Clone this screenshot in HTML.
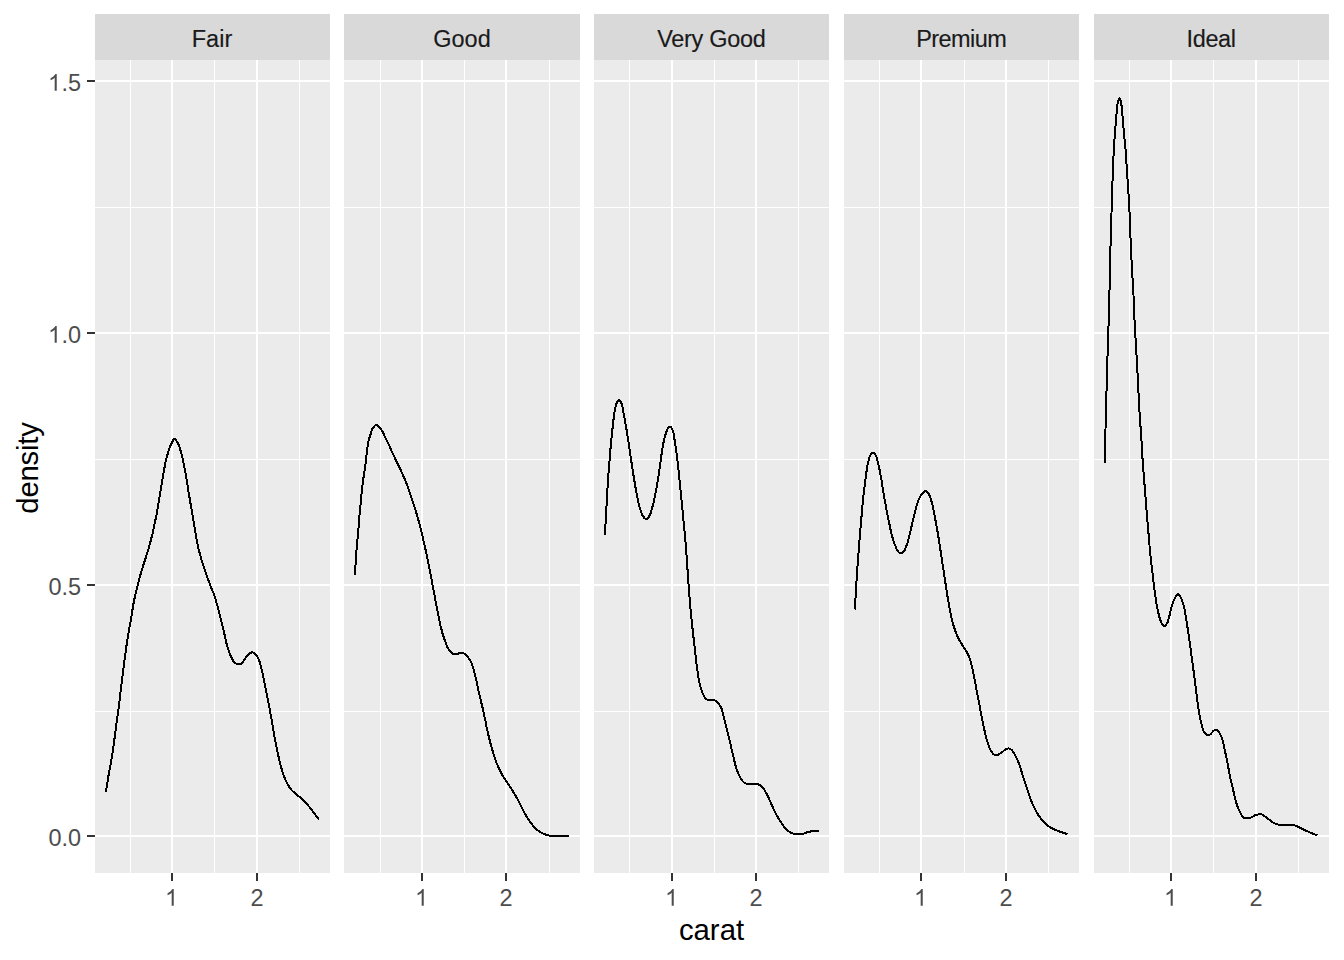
<!DOCTYPE html>
<html><head><meta charset="utf-8"><title>density</title>
<style>
html,body{margin:0;padding:0;background:#fff;}
body{width:1344px;height:960px;position:relative;overflow:hidden;font-family:"Liberation Sans",sans-serif;}
.s{position:absolute;top:14px;height:46px;background:#D9D9D9;color:#1A1A1A;font-size:23.47px;line-height:50px;overflow:hidden;text-align:center;white-space:nowrap;-webkit-text-stroke:0.15px #1A1A1A;}
.p{position:absolute;top:60px;height:813px;background:#EBEBEB;overflow:hidden;}
.g{position:absolute;background:#fff;}
.t{position:absolute;background:#333;}
.yl{position:absolute;left:0;width:81px;text-align:right;color:#4D4D4D;font-size:23.47px;line-height:28px;height:28px;white-space:nowrap;}
.xl{position:absolute;top:883.5px;width:40px;text-align:center;color:#4D4D4D;font-size:23.47px;line-height:28px;height:28px;}
.xt{position:absolute;left:611.5px;width:200px;top:913px;text-align:center;color:#000;font-size:29.33px;line-height:34px;height:34px;}
.yt{position:absolute;left:-72.5px;top:450.5px;width:200px;height:34px;text-align:center;color:#000;font-size:29.33px;line-height:34px;transform:rotate(-90deg);transform-origin:50% 50%;letter-spacing:-0.22px;}
svg.c{position:absolute;left:0;top:0;}
svg.o{display:inline-block;vertical-align:baseline;fill:#4D4D4D;overflow:visible;}
</style></head><body>
<div class="s" style="left:95px;width:235px"><span style="letter-spacing:0px;position:relative;left:-0.5px">Fair</span></div>
<div class="p" style="left:95px;width:235px"><div class="g" style="left:0;width:235px;top:147px;height:1px"></div><div class="g" style="left:0;width:235px;top:399px;height:1px"></div><div class="g" style="left:0;width:235px;top:651px;height:1px"></div><div class="g" style="top:0;height:813px;left:35px;width:1px"></div><div class="g" style="top:0;height:813px;left:119px;width:1px"></div><div class="g" style="top:0;height:813px;left:204px;width:1px"></div><div class="g" style="left:0;width:235px;top:20px;height:2px"></div><div class="g" style="left:0;width:235px;top:272px;height:2px"></div><div class="g" style="left:0;width:235px;top:524px;height:2px"></div><div class="g" style="left:0;width:235px;top:775px;height:2px"></div><div class="g" style="top:0;height:813px;left:76px;width:2px"></div><div class="g" style="top:0;height:813px;left:161px;width:2px"></div></div>
<div class="t" style="left:171px;top:873px;width:2px;height:8px"></div><div class="xl" style="left:152px"><svg class="o" viewBox="0 -1472 1139 1472" width="13.05" height="16.87"><path d="M763 0H583V-1147Q518 -1085 412.5 -1023T223 -930V-1104Q374 -1175 487 -1276T647 -1472H763Z"/></svg></div><div class="t" style="left:256px;top:873px;width:2px;height:8px"></div><div class="xl" style="left:237px">2</div>
<div class="s" style="left:344px;width:236px"><span style="letter-spacing:0px;position:relative;left:0px">Good</span></div>
<div class="p" style="left:344px;width:236px"><div class="g" style="left:0;width:236px;top:147px;height:1px"></div><div class="g" style="left:0;width:236px;top:399px;height:1px"></div><div class="g" style="left:0;width:236px;top:651px;height:1px"></div><div class="g" style="top:0;height:813px;left:36px;width:1px"></div><div class="g" style="top:0;height:813px;left:120px;width:1px"></div><div class="g" style="top:0;height:813px;left:205px;width:1px"></div><div class="g" style="left:0;width:236px;top:20px;height:2px"></div><div class="g" style="left:0;width:236px;top:272px;height:2px"></div><div class="g" style="left:0;width:236px;top:524px;height:2px"></div><div class="g" style="left:0;width:236px;top:775px;height:2px"></div><div class="g" style="top:0;height:813px;left:77px;width:2px"></div><div class="g" style="top:0;height:813px;left:161px;width:2px"></div></div>
<div class="t" style="left:421px;top:873px;width:2px;height:8px"></div><div class="xl" style="left:402px"><svg class="o" viewBox="0 -1472 1139 1472" width="13.05" height="16.87"><path d="M763 0H583V-1147Q518 -1085 412.5 -1023T223 -930V-1104Q374 -1175 487 -1276T647 -1472H763Z"/></svg></div><div class="t" style="left:505px;top:873px;width:2px;height:8px"></div><div class="xl" style="left:486px">2</div>
<div class="s" style="left:594px;width:235px"><span style="letter-spacing:-0.3px;position:relative;left:-0.15px">Very Good</span></div>
<div class="p" style="left:594px;width:235px"><div class="g" style="left:0;width:235px;top:147px;height:1px"></div><div class="g" style="left:0;width:235px;top:399px;height:1px"></div><div class="g" style="left:0;width:235px;top:651px;height:1px"></div><div class="g" style="top:0;height:813px;left:35px;width:1px"></div><div class="g" style="top:0;height:813px;left:120px;width:1px"></div><div class="g" style="top:0;height:813px;left:204px;width:1px"></div><div class="g" style="left:0;width:235px;top:20px;height:2px"></div><div class="g" style="left:0;width:235px;top:272px;height:2px"></div><div class="g" style="left:0;width:235px;top:524px;height:2px"></div><div class="g" style="left:0;width:235px;top:775px;height:2px"></div><div class="g" style="top:0;height:813px;left:77px;width:2px"></div><div class="g" style="top:0;height:813px;left:161px;width:2px"></div></div>
<div class="t" style="left:671px;top:873px;width:2px;height:8px"></div><div class="xl" style="left:652px"><svg class="o" viewBox="0 -1472 1139 1472" width="13.05" height="16.87"><path d="M763 0H583V-1147Q518 -1085 412.5 -1023T223 -930V-1104Q374 -1175 487 -1276T647 -1472H763Z"/></svg></div><div class="t" style="left:755px;top:873px;width:2px;height:8px"></div><div class="xl" style="left:736px">2</div>
<div class="s" style="left:844px;width:235px"><span style="letter-spacing:-0.55px;position:relative;left:-0.3px">Premium</span></div>
<div class="p" style="left:844px;width:235px"><div class="g" style="left:0;width:235px;top:147px;height:1px"></div><div class="g" style="left:0;width:235px;top:399px;height:1px"></div><div class="g" style="left:0;width:235px;top:651px;height:1px"></div><div class="g" style="top:0;height:813px;left:35px;width:1px"></div><div class="g" style="top:0;height:813px;left:120px;width:1px"></div><div class="g" style="top:0;height:813px;left:204px;width:1px"></div><div class="g" style="left:0;width:235px;top:20px;height:2px"></div><div class="g" style="left:0;width:235px;top:272px;height:2px"></div><div class="g" style="left:0;width:235px;top:524px;height:2px"></div><div class="g" style="left:0;width:235px;top:775px;height:2px"></div><div class="g" style="top:0;height:813px;left:76px;width:2px"></div><div class="g" style="top:0;height:813px;left:161px;width:2px"></div></div>
<div class="t" style="left:920px;top:873px;width:2px;height:8px"></div><div class="xl" style="left:901px"><svg class="o" viewBox="0 -1472 1139 1472" width="13.05" height="16.87"><path d="M763 0H583V-1147Q518 -1085 412.5 -1023T223 -930V-1104Q374 -1175 487 -1276T647 -1472H763Z"/></svg></div><div class="t" style="left:1005px;top:873px;width:2px;height:8px"></div><div class="xl" style="left:986px">2</div>
<div class="s" style="left:1094px;width:235px"><span style="letter-spacing:-0.36px;position:relative;left:-0.4px">Ideal</span></div>
<div class="p" style="left:1094px;width:235px"><div class="g" style="left:0;width:235px;top:147px;height:1px"></div><div class="g" style="left:0;width:235px;top:399px;height:1px"></div><div class="g" style="left:0;width:235px;top:651px;height:1px"></div><div class="g" style="top:0;height:813px;left:35px;width:1px"></div><div class="g" style="top:0;height:813px;left:119px;width:1px"></div><div class="g" style="top:0;height:813px;left:204px;width:1px"></div><div class="g" style="left:0;width:235px;top:20px;height:2px"></div><div class="g" style="left:0;width:235px;top:272px;height:2px"></div><div class="g" style="left:0;width:235px;top:524px;height:2px"></div><div class="g" style="left:0;width:235px;top:775px;height:2px"></div><div class="g" style="top:0;height:813px;left:76px;width:2px"></div><div class="g" style="top:0;height:813px;left:161px;width:2px"></div></div>
<div class="t" style="left:1170px;top:873px;width:2px;height:8px"></div><div class="xl" style="left:1151px"><svg class="o" viewBox="0 -1472 1139 1472" width="13.05" height="16.87"><path d="M763 0H583V-1147Q518 -1085 412.5 -1023T223 -930V-1104Q374 -1175 487 -1276T647 -1472H763Z"/></svg></div><div class="t" style="left:1255px;top:873px;width:2px;height:8px"></div><div class="xl" style="left:1236px">2</div>
<div class="t" style="left:87px;top:80px;width:8px;height:2px"></div><div class="yl" style="top:68.5px"><svg class="o" viewBox="0 -1472 1139 1472" width="13.05" height="16.87"><path d="M763 0H583V-1147Q518 -1085 412.5 -1023T223 -930V-1104Q374 -1175 487 -1276T647 -1472H763Z"/></svg>.5</div>
<div class="t" style="left:87px;top:332px;width:8px;height:2px"></div><div class="yl" style="top:320.5px"><svg class="o" viewBox="0 -1472 1139 1472" width="13.05" height="16.87"><path d="M763 0H583V-1147Q518 -1085 412.5 -1023T223 -930V-1104Q374 -1175 487 -1276T647 -1472H763Z"/></svg>.0</div>
<div class="t" style="left:87px;top:584px;width:8px;height:2px"></div><div class="yl" style="top:572.5px">0.5</div>
<div class="t" style="left:87px;top:835px;width:8px;height:2px"></div><div class="yl" style="top:823.5px">0.0</div>
<div class="xt">carat</div>
<div class="yt">density</div>
<svg class="c" width="1344" height="960" viewBox="0 0 1344 960">
<path d="M105.7,792.0 L105.8,791.7 L105.8,791.4 L105.9,791.1 L105.9,790.8 L106.0,790.4 L106.1,790.0 L106.4,788.3 L106.8,785.9 L107.3,783.2 L107.7,780.2 L108.2,777.3 L108.7,774.5 L109.2,771.9 L109.6,769.4 L110.1,766.8 L110.6,764.2 L111.1,761.6 L111.5,759.0 L111.9,756.3 L112.4,753.6 L112.8,750.9 L113.2,748.1 L113.6,745.3 L114.0,742.5 L114.4,739.3 L114.9,736.0 L115.3,732.7 L115.7,729.3 L116.2,726.0 L116.6,722.7 L117.0,719.5 L117.5,716.3 L117.9,713.1 L118.4,709.9 L118.8,706.7 L119.2,703.5 L119.6,700.1 L120.0,696.7 L120.4,693.3 L120.8,689.8 L121.2,686.4 L121.6,683.1 L122.0,680.1 L122.4,677.1 L122.7,674.2 L123.1,671.3 L123.5,668.3 L123.9,665.3 L124.3,662.0 L124.7,658.7 L125.2,655.3 L125.6,652.0 L126.0,648.7 L126.5,645.5 L126.9,642.7 L127.4,640.0 L127.8,637.4 L128.2,634.8 L128.7,632.2 L129.1,629.7 L129.5,627.4 L129.9,625.2 L130.3,623.0 L130.7,620.8 L131.0,618.7 L131.4,616.5 L131.7,614.4 L132.1,612.4 L132.4,610.4 L132.7,608.3 L133.0,606.3 L133.4,604.2 L133.8,601.9 L134.3,599.6 L134.8,597.2 L135.3,594.9 L135.9,592.6 L136.4,590.3 L136.9,588.3 L137.4,586.3 L137.9,584.3 L138.4,582.3 L138.9,580.4 L139.4,578.4 L139.9,576.4 L140.5,574.5 L141.1,572.6 L141.7,570.6 L142.3,568.6 L142.9,566.6 L143.6,564.3 L144.3,562.1 L145.1,559.7 L145.8,557.4 L146.6,555.0 L147.3,552.7 L148.0,550.4 L148.7,548.1 L149.3,545.8 L150.0,543.5 L150.6,541.2 L151.2,538.8 L151.8,536.2 L152.5,533.7 L153.1,531.0 L153.6,528.4 L154.2,525.7 L154.8,523.0 L155.4,520.1 L156.0,517.2 L156.6,514.2 L157.1,511.2 L157.7,508.2 L158.2,505.2 L158.7,502.2 L159.2,499.3 L159.7,496.3 L160.1,493.3 L160.6,490.4 L161.1,487.4 L161.6,484.4 L162.1,481.4 L162.6,478.4 L163.1,475.4 L163.6,472.4 L164.1,469.6 L164.6,467.1 L165.1,464.7 L165.5,462.3 L166.0,460.0 L166.6,457.8 L167.1,455.7 L167.6,454.1 L168.0,452.5 L168.5,450.9 L169.0,449.5 L169.5,448.1 L170.0,446.8 L170.4,445.9 L170.8,445.0 L171.1,444.2 L171.5,443.4 L171.9,442.7 L172.2,442.0 L172.4,441.6 L172.6,441.2 L172.8,440.8 L173.0,440.5 L173.2,440.2 L173.4,439.9 L173.6,439.7 L173.8,439.5 L174.0,439.4 L174.2,439.2 L174.4,439.1 L174.6,439.1 L174.8,439.1 L175.0,439.2 L175.2,439.4 L175.4,439.5 L175.6,439.7 L175.8,439.9 L176.0,440.2 L176.2,440.4 L176.4,440.7 L176.6,441.1 L176.8,441.4 L177.0,441.8 L177.3,442.3 L177.6,442.9 L177.9,443.5 L178.3,444.1 L178.6,444.8 L178.9,445.6 L179.4,447.0 L179.9,448.5 L180.4,450.1 L180.9,451.9 L181.4,453.8 L181.9,455.7 L182.6,458.6 L183.3,461.8 L184.0,465.2 L184.6,468.7 L185.3,472.2 L185.9,475.5 L186.4,478.5 L186.9,481.5 L187.4,484.5 L187.9,487.4 L188.3,490.3 L188.8,493.3 L189.3,496.3 L189.8,499.2 L190.3,502.2 L190.8,505.2 L191.3,508.1 L191.8,511.1 L192.3,514.1 L192.8,517.1 L193.3,520.1 L193.8,523.0 L194.3,526.0 L194.8,528.9 L195.3,531.6 L195.7,534.3 L196.2,537.0 L196.7,539.6 L197.2,542.2 L197.7,544.8 L198.2,547.2 L198.7,549.5 L199.3,551.8 L199.9,554.0 L200.5,556.3 L201.1,558.6 L201.8,560.9 L202.5,563.2 L203.3,565.6 L204.1,567.9 L204.9,570.2 L205.7,572.5 L206.5,574.8 L207.3,577.2 L208.1,579.6 L209.0,581.9 L209.8,584.1 L210.6,586.3 L211.3,588.0 L212.0,589.7 L212.6,591.2 L213.3,592.8 L214.0,594.5 L214.6,596.2 L215.3,598.4 L216.0,600.7 L216.6,603.0 L217.3,605.4 L217.9,607.7 L218.5,610.0 L219.0,612.0 L219.5,614.0 L220.0,615.9 L220.5,617.9 L221.0,619.8 L221.5,621.8 L222.0,623.9 L222.5,626.0 L223.0,628.2 L223.5,630.3 L224.0,632.5 L224.5,634.6 L225.0,636.6 L225.4,638.6 L225.9,640.6 L226.3,642.6 L226.8,644.6 L227.4,646.5 L228.0,648.4 L228.6,650.3 L229.3,652.2 L229.9,654.1 L230.6,655.8 L231.4,657.4 L232.0,658.6 L232.6,659.7 L233.2,660.8 L233.9,661.8 L234.6,662.7 L235.4,663.3 L236.2,663.7 L237.1,664.0 L238.0,664.2 L239.0,664.2 L239.9,664.1 L240.7,663.9 L241.6,663.4 L242.3,662.5 L243.1,661.5 L243.8,660.4 L244.5,659.4 L245.2,658.4 L245.9,657.6 L246.5,656.7 L247.2,655.9 L247.9,655.1 L248.5,654.4 L249.2,653.8 L249.7,653.4 L250.2,653.1 L250.7,652.8 L251.2,652.6 L251.7,652.4 L252.2,652.4 L252.8,652.5 L253.5,652.9 L254.2,653.3 L254.9,653.8 L255.5,654.4 L256.1,655.0 L256.7,655.7 L257.2,656.5 L257.7,657.4 L258.2,658.3 L258.7,659.3 L259.1,660.4 L259.7,661.9 L260.2,663.6 L260.7,665.5 L261.2,667.3 L261.6,669.3 L262.1,671.2 L262.6,673.4 L263.1,675.7 L263.6,678.0 L264.1,680.3 L264.5,682.7 L265.0,685.1 L265.5,687.6 L266.0,690.2 L266.5,692.7 L267.0,695.3 L267.5,697.9 L268.0,700.5 L268.5,703.1 L269.0,705.7 L269.5,708.3 L270.0,710.9 L270.5,713.6 L271.0,716.3 L271.6,719.5 L272.1,722.7 L272.7,726.0 L273.2,729.3 L273.8,732.7 L274.4,736.0 L275.0,739.4 L275.7,742.8 L276.3,746.2 L277.0,749.5 L277.7,752.8 L278.4,756.0 L279.0,758.8 L279.7,761.5 L280.3,764.2 L281.0,766.8 L281.7,769.3 L282.4,771.7 L283.0,773.5 L283.6,775.2 L284.2,776.9 L284.9,778.5 L285.6,780.1 L286.3,781.6 L287.0,783.0 L287.7,784.4 L288.5,785.7 L289.2,787.0 L290.1,788.2 L291.0,789.4 L292.0,790.5 L293.1,791.5 L294.2,792.5 L295.4,793.5 L296.6,794.5 L297.7,795.4 L298.7,796.3 L299.7,797.1 L300.7,797.9 L301.6,798.7 L302.6,799.6 L303.6,800.5 L304.8,801.7 L305.9,802.9 L307.1,804.3 L308.2,805.6 L309.4,807.0 L310.6,808.5 L312.0,810.2 L313.4,812.1 L314.8,814.0 L316.2,815.9 L317.7,817.8 L319.1,819.7" fill="none" stroke="#000" stroke-width="2" stroke-linejoin="round" stroke-linecap="butt" shape-rendering="crispEdges"/>
<path d="M354.9,575.2 L355.1,571.4 L355.3,567.6 L355.6,563.8 L355.8,560.0 L356.0,556.2 L356.3,552.5 L356.6,549.1 L356.9,545.9 L357.2,542.6 L357.5,539.4 L357.8,536.1 L358.1,532.7 L358.4,528.9 L358.8,524.9 L359.1,520.9 L359.4,516.9 L359.7,512.9 L360.1,509.0 L360.5,505.2 L360.8,501.2 L361.2,497.3 L361.6,493.5 L362.0,490.1 L362.3,487.2 L362.4,485.9 L362.6,484.7 L362.7,483.7 L362.8,482.7 L363.0,481.7 L363.1,480.6 L363.3,479.4 L363.4,478.2 L363.6,477.0 L363.8,475.8 L364.0,474.6 L364.2,473.4 L364.4,472.1 L364.6,470.7 L364.8,469.4 L365.0,468.0 L365.1,466.7 L365.3,465.3 L365.5,464.0 L365.6,462.6 L365.8,461.2 L365.9,459.9 L366.0,458.6 L366.2,457.3 L366.3,456.2 L366.5,455.2 L366.7,454.1 L366.8,453.1 L367.0,452.1 L367.1,451.0 L367.2,449.9 L367.4,448.7 L367.5,447.6 L367.6,446.4 L367.7,445.3 L367.9,444.2 L368.1,443.3 L368.2,442.4 L368.4,441.6 L368.7,440.7 L368.9,439.9 L369.1,439.0 L369.4,438.1 L369.6,437.1 L369.9,436.2 L370.2,435.3 L370.5,434.4 L370.8,433.5 L371.0,432.8 L371.1,432.2 L371.3,431.6 L371.5,431.0 L371.7,430.4 L371.9,429.8 L372.2,429.2 L372.6,428.6 L373.0,428.1 L373.4,427.5 L373.8,427.0 L374.1,426.6 L374.3,426.3 L374.5,426.0 L374.7,425.8 L374.9,425.6 L375.1,425.4 L375.3,425.2 L375.5,425.1 L375.7,425.0 L375.8,424.9 L376.0,424.8 L376.2,424.8 L376.4,424.8 L376.6,424.8 L376.8,424.9 L377.0,425.0 L377.2,425.1 L377.4,425.2 L377.6,425.3 L377.9,425.5 L378.1,425.7 L378.4,426.0 L378.6,426.3 L378.9,426.6 L379.2,426.9 L379.7,427.5 L380.1,428.1 L380.6,428.8 L381.1,429.5 L381.6,430.2 L382.1,431.0 L382.6,431.9 L383.1,432.9 L383.6,433.9 L384.0,434.9 L384.5,435.9 L385.0,436.9 L385.5,437.9 L386.0,438.8 L386.5,439.8 L386.9,440.7 L387.4,441.7 L387.9,442.7 L388.4,443.8 L388.9,444.9 L389.4,446.0 L389.8,447.1 L390.3,448.2 L390.8,449.3 L391.3,450.4 L391.8,451.5 L392.3,452.6 L392.8,453.6 L393.3,454.7 L393.8,455.8 L394.3,456.8 L394.8,457.9 L395.2,458.9 L395.7,460.0 L396.2,461.0 L396.7,462.0 L397.2,463.0 L397.7,463.9 L398.2,464.9 L398.6,465.9 L399.1,466.8 L399.6,467.8 L400.1,468.8 L400.6,469.9 L401.1,470.9 L401.5,472.0 L402.0,473.0 L402.5,474.1 L403.0,475.2 L403.5,476.3 L404.0,477.4 L404.5,478.4 L405.0,479.5 L405.4,480.6 L405.8,481.6 L406.2,482.5 L406.5,483.5 L406.9,484.4 L407.2,485.4 L407.6,486.5 L408.1,488.1 L408.7,489.8 L409.3,491.6 L409.9,493.4 L410.5,495.3 L411.1,497.1 L411.8,499.0 L412.4,501.0 L413.1,502.9 L413.8,504.9 L414.4,507.0 L415.1,509.0 L415.8,511.2 L416.5,513.5 L417.1,515.8 L417.8,518.1 L418.5,520.4 L419.1,522.8 L419.8,525.4 L420.4,527.9 L421.1,530.6 L421.7,533.2 L422.4,535.9 L423.0,538.6 L423.7,541.5 L424.4,544.4 L425.0,547.4 L425.7,550.4 L426.4,553.4 L427.0,556.4 L427.7,559.6 L428.3,562.9 L429.0,566.2 L429.6,569.5 L430.3,572.8 L430.9,576.2 L431.6,579.7 L432.3,583.3 L432.9,587.0 L433.6,590.6 L434.3,594.1 L434.9,597.4 L435.4,600.1 L435.9,602.7 L436.4,605.2 L436.9,607.7 L437.4,610.2 L437.9,612.7 L438.4,615.3 L438.9,618.0 L439.5,620.7 L440.0,623.4 L440.6,626.0 L441.2,628.5 L441.8,630.6 L442.3,632.7 L442.9,634.7 L443.5,636.6 L444.1,638.6 L444.8,640.4 L445.4,642.0 L446.0,643.6 L446.6,645.2 L447.2,646.7 L447.9,648.0 L448.7,649.3 L449.4,650.2 L450.0,651.2 L450.8,652.0 L451.5,652.7 L452.3,653.4 L453.1,653.8 L453.8,654.0 L454.6,654.1 L455.3,654.1 L456.1,654.0 L456.9,653.9 L457.6,653.8 L458.3,653.6 L459.0,653.4 L459.6,653.1 L460.3,652.8 L460.9,652.6 L461.6,652.6 L462.3,652.7 L463.0,653.0 L463.6,653.3 L464.3,653.8 L465.0,654.3 L465.6,654.8 L466.5,655.6 L467.3,656.6 L468.2,657.6 L469.0,658.8 L469.8,659.9 L470.5,661.1 L471.1,662.3 L471.7,663.6 L472.2,664.9 L472.6,666.2 L473.1,667.6 L473.5,669.1 L474.0,670.9 L474.5,672.8 L475.0,674.8 L475.5,676.8 L475.9,678.8 L476.4,680.9 L476.9,683.2 L477.4,685.5 L477.9,687.9 L478.4,690.3 L478.9,692.6 L479.4,694.8 L479.8,696.7 L480.3,698.4 L480.7,700.2 L481.1,701.9 L481.6,703.7 L482.0,705.5 L482.5,707.6 L483.0,709.8 L483.5,711.9 L483.9,714.2 L484.4,716.4 L484.9,718.6 L485.4,720.9 L485.9,723.2 L486.3,725.6 L486.8,727.9 L487.3,730.2 L487.8,732.5 L488.3,734.7 L488.8,736.8 L489.3,738.9 L489.9,741.0 L490.4,743.1 L491.0,745.3 L491.6,747.6 L492.3,749.9 L493.0,752.3 L493.7,754.6 L494.4,757.0 L495.2,759.2 L496.0,761.3 L496.7,763.3 L497.6,765.3 L498.4,767.3 L499.3,769.2 L500.2,771.1 L501.1,772.8 L502.1,774.6 L503.1,776.2 L504.1,777.9 L505.1,779.5 L506.1,781.1 L507.1,782.6 L508.1,784.1 L509.1,785.6 L510.1,787.0 L511.1,788.5 L512.1,790.0 L513.1,791.6 L514.1,793.2 L515.1,794.8 L516.1,796.5 L517.0,798.2 L518.0,799.9 L519.0,801.8 L520.0,803.8 L520.9,805.9 L521.9,807.9 L522.9,809.9 L523.9,811.8 L524.9,813.5 L525.8,815.3 L526.8,817.0 L527.8,818.6 L528.9,820.2 L529.9,821.7 L530.8,823.0 L531.8,824.2 L532.8,825.4 L533.8,826.5 L534.8,827.6 L535.8,828.6 L536.8,829.5 L537.7,830.3 L538.7,831.0 L539.7,831.8 L540.8,832.4 L541.8,833.0 L542.8,833.5 L543.7,833.9 L544.7,834.3 L545.7,834.6 L546.7,834.9 L547.7,835.2 L548.6,835.4 L549.6,835.6 L550.5,835.7 L551.4,835.8 L552.5,835.9 L553.6,836.0 L555.7,836.1 L558.2,836.1 L560.8,836.1 L563.5,836.1 L566.3,836.0 L568.9,836.0" fill="none" stroke="#000" stroke-width="2" stroke-linejoin="round" stroke-linecap="butt" shape-rendering="crispEdges"/>
<path d="M604.9,535.4 L605.1,531.8 L605.3,528.1 L605.5,524.5 L605.7,520.9 L605.9,517.2 L606.1,513.6 L606.3,510.0 L606.5,506.4 L606.7,502.8 L606.9,499.2 L607.1,495.6 L607.3,491.9 L607.5,488.0 L607.8,484.0 L608.1,480.0 L608.3,476.0 L608.6,472.0 L608.9,468.1 L609.2,464.4 L609.5,460.7 L609.8,457.1 L610.1,453.4 L610.4,449.9 L610.7,446.3 L611.0,442.9 L611.3,439.6 L611.7,436.2 L612.0,432.9 L612.4,429.7 L612.7,426.6 L613.0,423.9 L613.3,421.3 L613.6,418.8 L613.9,416.3 L614.2,413.9 L614.6,411.7 L614.9,410.1 L615.2,408.5 L615.5,407.0 L615.8,405.6 L616.2,404.3 L616.6,403.2 L617.0,402.4 L617.3,401.7 L617.7,400.9 L618.2,400.3 L618.6,399.9 L619.0,399.8 L619.4,400.0 L619.9,400.5 L620.4,401.2 L620.8,402.0 L621.2,402.9 L621.6,403.8 L622.1,405.3 L622.5,406.9 L622.9,408.8 L623.2,410.7 L623.5,412.7 L623.9,414.7 L624.3,417.0 L624.8,419.4 L625.2,421.9 L625.6,424.4 L626.1,427.0 L626.5,429.5 L626.9,432.2 L627.4,435.0 L627.8,437.8 L628.2,440.6 L628.7,443.5 L629.1,446.3 L629.5,449.3 L630.0,452.2 L630.4,455.2 L630.9,458.2 L631.3,461.2 L631.8,464.2 L632.3,467.2 L632.7,470.2 L633.2,473.2 L633.6,476.1 L634.1,479.1 L634.6,482.0 L635.1,484.7 L635.5,487.4 L635.9,490.1 L636.4,492.7 L636.9,495.3 L637.4,497.8 L637.9,499.9 L638.3,502.0 L638.8,504.1 L639.3,506.1 L639.8,507.9 L640.4,509.7 L640.8,511.0 L641.3,512.3 L641.7,513.5 L642.2,514.7 L642.7,515.7 L643.3,516.6 L643.8,517.2 L644.2,517.8 L644.8,518.4 L645.3,518.8 L645.8,519.1 L646.3,519.2 L646.8,519.0 L647.3,518.7 L647.9,518.1 L648.4,517.5 L648.8,516.7 L649.3,516.0 L649.9,514.9 L650.4,513.6 L650.9,512.3 L651.3,510.8 L651.8,509.2 L652.2,507.7 L652.7,505.7 L653.3,503.7 L653.8,501.5 L654.2,499.3 L654.7,497.1 L655.2,494.8 L655.7,492.1 L656.3,489.4 L656.8,486.6 L657.3,483.7 L657.7,480.9 L658.2,478.0 L658.7,475.1 L659.1,472.1 L659.5,469.1 L659.9,466.1 L660.3,463.1 L660.7,460.2 L661.1,457.5 L661.5,454.7 L661.9,452.0 L662.2,449.4 L662.7,446.8 L663.1,444.4 L663.5,442.6 L663.8,440.8 L664.2,439.2 L664.6,437.5 L665.0,436.0 L665.5,434.5 L665.9,433.3 L666.3,432.1 L666.7,430.9 L667.1,429.8 L667.6,428.9 L668.1,428.1 L668.4,427.7 L668.8,427.3 L669.1,427.0 L669.5,426.8 L669.9,426.6 L670.2,426.6 L670.6,426.8 L671.1,427.2 L671.5,427.8 L671.9,428.5 L672.2,429.3 L672.6,430.1 L673.1,431.7 L673.6,433.5 L674.0,435.6 L674.3,437.8 L674.6,440.1 L675.0,442.4 L675.4,445.1 L675.8,448.0 L676.2,450.9 L676.6,453.9 L677.0,457.0 L677.4,460.2 L677.8,464.0 L678.3,467.8 L678.7,471.8 L679.1,475.9 L679.5,479.9 L679.9,484.0 L680.3,488.2 L680.8,492.5 L681.2,496.8 L681.6,501.1 L682.1,505.4 L682.5,509.7 L682.9,514.0 L683.3,518.3 L683.7,522.6 L684.1,526.9 L684.5,531.1 L684.9,535.4 L685.3,539.5 L685.6,543.7 L685.9,547.8 L686.3,551.9 L686.6,555.9 L686.9,560.0 L687.2,564.0 L687.4,567.9 L687.7,571.9 L688.0,575.8 L688.2,579.8 L688.5,583.7 L688.8,587.7 L689.1,591.7 L689.4,595.7 L689.7,599.7 L690.1,603.7 L690.4,607.5 L690.7,610.9 L691.0,614.3 L691.4,617.6 L691.7,620.8 L692.1,624.1 L692.4,627.3 L692.7,630.3 L693.1,633.3 L693.4,636.3 L693.7,639.2 L694.1,642.1 L694.4,645.1 L694.7,648.1 L695.1,651.1 L695.4,654.1 L695.7,657.0 L696.0,660.0 L696.4,662.9 L696.8,665.6 L697.1,668.4 L697.5,671.1 L697.9,673.7 L698.3,676.3 L698.7,678.7 L699.1,680.7 L699.5,682.6 L699.9,684.4 L700.3,686.2 L700.8,688.0 L701.3,689.6 L701.7,690.9 L702.2,692.2 L702.7,693.4 L703.2,694.6 L703.7,695.6 L704.3,696.6 L704.8,697.3 L705.3,698.0 L705.8,698.6 L706.4,699.1 L707.0,699.6 L707.6,699.9 L708.2,700.1 L708.9,700.1 L709.5,700.0 L710.2,700.0 L710.9,699.9 L711.6,699.9 L712.3,700.0 L713.0,700.0 L713.7,700.1 L714.3,700.3 L715.0,700.4 L715.6,700.7 L716.1,701.0 L716.7,701.4 L717.1,701.9 L717.6,702.4 L718.1,702.9 L718.5,703.5 L719.0,704.2 L719.6,705.0 L720.1,705.8 L720.6,706.7 L721.1,707.6 L721.5,708.6 L722.1,710.1 L722.5,711.8 L723.0,713.5 L723.4,715.4 L723.9,717.2 L724.3,719.0 L724.7,720.8 L725.2,722.6 L725.6,724.5 L726.0,726.3 L726.5,728.1 L726.9,730.0 L727.4,731.9 L727.9,733.9 L728.4,735.8 L728.9,737.8 L729.4,739.8 L729.9,741.8 L730.4,743.9 L730.9,746.1 L731.4,748.3 L731.9,750.5 L732.5,752.8 L733.0,755.0 L733.6,757.4 L734.1,759.9 L734.7,762.3 L735.3,764.8 L736.0,767.1 L736.7,769.3 L737.3,771.0 L737.9,772.6 L738.6,774.1 L739.3,775.6 L740.0,776.9 L740.7,778.2 L741.3,779.1 L741.8,780.0 L742.4,780.8 L743.0,781.5 L743.6,782.2 L744.3,782.7 L744.9,783.1 L745.5,783.4 L746.1,783.6 L746.7,783.8 L747.4,784.0 L748.2,784.1 L749.5,784.2 L751.0,784.2 L752.7,784.0 L754.3,783.9 L755.8,783.9 L757.1,784.1 L757.9,784.3 L758.6,784.6 L759.3,784.9 L759.9,785.2 L760.5,785.6 L761.1,786.1 L761.8,786.7 L762.5,787.4 L763.1,788.2 L763.7,789.1 L764.4,790.0 L765.0,791.0 L765.8,792.4 L766.7,794.0 L767.5,795.7 L768.4,797.4 L769.2,799.2 L770.0,800.9 L770.8,802.7 L771.6,804.5 L772.4,806.4 L773.2,808.2 L774.1,810.1 L774.9,811.8 L775.7,813.4 L776.5,814.9 L777.3,816.4 L778.2,817.9 L779.0,819.3 L779.9,820.7 L780.7,821.9 L781.5,823.2 L782.3,824.4 L783.1,825.5 L783.9,826.6 L784.8,827.6 L785.6,828.5 L786.4,829.3 L787.2,830.0 L788.1,830.8 L788.9,831.4 L789.8,832.0 L790.6,832.5 L791.4,832.9 L792.2,833.2 L793.0,833.5 L793.8,833.8 L794.7,834.0 L795.8,834.2 L797.0,834.3 L798.2,834.3 L799.4,834.2 L800.6,834.1 L801.7,834.0 L802.7,833.8 L803.7,833.5 L804.7,833.2 L805.7,832.8 L806.6,832.5 L807.6,832.2 L808.6,832.0 L809.6,831.7 L810.6,831.5 L811.5,831.3 L812.5,831.1 L813.5,831.0 L814.4,830.9 L815.3,830.9 L816.2,830.8 L817.1,830.8 L818.0,830.8 L818.9,830.8" fill="none" stroke="#000" stroke-width="2" stroke-linejoin="round" stroke-linecap="butt" shape-rendering="crispEdges"/>
<path d="M854.9,609.5 L855.1,605.8 L855.3,602.2 L855.5,598.5 L855.7,594.8 L855.9,591.1 L856.1,587.4 L856.3,583.5 L856.6,579.6 L856.9,575.6 L857.1,571.6 L857.4,567.6 L857.7,563.6 L858.0,559.4 L858.3,555.1 L858.7,550.7 L859.0,546.4 L859.4,542.1 L859.7,537.9 L860.0,533.9 L860.4,529.8 L860.7,525.9 L861.0,521.9 L861.4,518.0 L861.7,514.2 L862.0,510.8 L862.3,507.4 L862.6,504.1 L862.9,500.8 L863.3,497.6 L863.6,494.4 L863.9,491.6 L864.2,489.0 L864.6,486.3 L864.9,483.7 L865.2,481.1 L865.6,478.5 L866.0,475.8 L866.3,473.0 L866.7,470.2 L867.1,467.5 L867.5,465.0 L868.0,462.7 L868.4,461.1 L868.8,459.6 L869.2,458.2 L869.6,456.9 L870.1,455.8 L870.6,454.8 L870.9,454.3 L871.3,453.8 L871.7,453.4 L872.1,453.1 L872.5,452.9 L872.9,452.8 L873.3,452.9 L873.8,453.1 L874.2,453.4 L874.7,453.8 L875.1,454.3 L875.5,454.8 L876.0,455.8 L876.5,456.9 L876.8,458.3 L877.2,459.7 L877.5,461.2 L877.9,462.7 L878.4,464.5 L878.8,466.4 L879.2,468.3 L879.7,470.4 L880.1,472.4 L880.5,474.6 L881.0,477.4 L881.5,480.3 L882.0,483.3 L882.4,486.4 L882.9,489.4 L883.4,492.4 L883.9,495.2 L884.4,498.1 L884.9,500.9 L885.4,503.7 L885.9,506.5 L886.4,509.2 L886.9,511.8 L887.4,514.3 L887.9,516.8 L888.4,519.3 L888.9,521.7 L889.4,524.1 L889.9,526.3 L890.3,528.5 L890.8,530.7 L891.3,532.9 L891.8,534.9 L892.3,536.9 L892.8,538.5 L893.2,540.1 L893.7,541.6 L894.2,543.0 L894.8,544.5 L895.3,545.8 L895.8,546.9 L896.2,548.1 L896.7,549.2 L897.2,550.2 L897.7,551.1 L898.3,551.8 L898.7,552.2 L899.1,552.5 L899.5,552.7 L899.9,552.9 L900.4,553.1 L900.8,553.1 L901.3,553.1 L901.7,553.0 L902.2,552.8 L902.7,552.5 L903.2,552.2 L903.6,551.8 L904.2,551.0 L904.8,550.0 L905.3,548.8 L905.8,547.5 L906.3,546.1 L906.8,544.8 L907.4,543.2 L907.9,541.4 L908.4,539.6 L908.9,537.8 L909.3,535.9 L909.8,534.0 L910.3,531.9 L910.8,529.7 L911.3,527.6 L911.7,525.4 L912.2,523.2 L912.7,521.1 L913.2,519.2 L913.6,517.4 L914.1,515.5 L914.6,513.7 L915.0,511.9 L915.5,510.2 L915.9,508.6 L916.3,507.1 L916.7,505.6 L917.2,504.1 L917.6,502.7 L918.1,501.3 L918.5,500.2 L919.0,499.1 L919.5,498.1 L920.0,497.1 L920.5,496.2 L921.0,495.4 L921.4,494.8 L921.8,494.2 L922.2,493.7 L922.6,493.2 L923.0,492.8 L923.4,492.4 L923.8,492.1 L924.2,491.8 L924.6,491.5 L925.0,491.3 L925.4,491.2 L925.8,491.2 L926.2,491.3 L926.7,491.6 L927.1,492.0 L927.6,492.4 L928.0,492.9 L928.4,493.4 L928.9,494.2 L929.3,495.0 L929.7,496.0 L930.1,497.0 L930.5,498.1 L930.9,499.3 L931.4,501.1 L932.0,503.2 L932.5,505.3 L932.9,507.6 L933.4,509.9 L933.9,512.2 L934.4,514.7 L934.9,517.3 L935.4,519.9 L935.9,522.6 L936.4,525.3 L936.9,528.0 L937.4,530.9 L937.9,533.8 L938.4,536.8 L938.8,539.8 L939.3,542.8 L939.8,545.8 L940.3,549.0 L940.8,552.3 L941.3,555.6 L941.8,559.0 L942.3,562.3 L942.8,565.6 L943.3,568.9 L943.8,572.3 L944.3,575.6 L944.8,578.9 L945.3,582.2 L945.8,585.4 L946.2,588.2 L946.7,591.0 L947.1,593.7 L947.5,596.4 L948.0,599.0 L948.4,601.6 L948.8,603.8 L949.1,605.9 L949.5,607.9 L949.9,609.9 L950.3,611.9 L950.7,613.9 L951.1,615.8 L951.5,617.6 L951.9,619.5 L952.4,621.3 L952.9,623.2 L953.4,625.0 L954.0,627.0 L954.6,628.9 L955.3,630.9 L956.0,632.9 L956.8,634.8 L957.6,636.6 L958.4,638.2 L959.2,639.7 L960.0,641.2 L960.9,642.6 L961.7,644.1 L962.6,645.5 L963.4,646.8 L964.3,648.2 L965.2,649.5 L966.0,650.8 L966.8,652.1 L967.5,653.4 L968.1,654.7 L968.6,655.9 L969.1,657.2 L969.6,658.5 L970.0,659.9 L970.5,661.3 L971.1,663.2 L971.6,665.3 L972.1,667.5 L972.6,669.7 L973.0,672.0 L973.5,674.2 L974.0,676.6 L974.5,679.1 L975.0,681.6 L975.5,684.2 L975.9,686.6 L976.4,689.1 L976.8,691.4 L977.3,693.6 L977.7,695.8 L978.1,698.0 L978.6,700.2 L979.0,702.5 L979.4,704.9 L979.9,707.2 L980.3,709.7 L980.8,712.1 L981.2,714.4 L981.7,716.8 L982.1,719.1 L982.6,721.3 L983.0,723.6 L983.5,725.8 L983.9,728.0 L984.4,730.2 L984.9,732.2 L985.3,734.1 L985.8,736.0 L986.3,737.9 L986.8,739.7 L987.3,741.5 L987.8,743.0 L988.3,744.6 L988.8,746.0 L989.3,747.5 L989.9,748.8 L990.5,750.0 L991.0,750.9 L991.5,751.7 L992.1,752.5 L992.6,753.2 L993.2,753.8 L993.8,754.3 L994.3,754.6 L994.7,754.8 L995.2,754.9 L995.7,755.0 L996.2,755.0 L996.7,755.0 L997.3,754.9 L998.0,754.7 L998.7,754.3 L999.4,754.0 L1000.0,753.6 L1000.7,753.2 L1001.4,752.8 L1002.0,752.2 L1002.7,751.7 L1003.3,751.2 L1003.9,750.6 L1004.6,750.2 L1005.3,749.8 L1005.9,749.4 L1006.6,749.0 L1007.3,748.7 L1008.0,748.5 L1008.6,748.4 L1009.1,748.5 L1009.6,748.6 L1010.2,748.8 L1010.6,749.2 L1011.1,749.5 L1011.6,749.9 L1012.2,750.5 L1012.8,751.3 L1013.4,752.1 L1013.9,753.1 L1014.5,754.0 L1015.0,755.0 L1015.7,756.2 L1016.3,757.5 L1017.0,758.9 L1017.6,760.3 L1018.2,761.8 L1018.8,763.3 L1019.5,765.1 L1020.1,767.0 L1020.7,768.9 L1021.3,770.9 L1021.9,772.8 L1022.5,774.7 L1023.1,776.4 L1023.6,778.1 L1024.2,779.8 L1024.7,781.4 L1025.3,783.2 L1025.9,785.0 L1026.7,787.4 L1027.5,789.9 L1028.3,792.5 L1029.2,795.1 L1030.1,797.6 L1030.9,799.9 L1031.5,801.5 L1032.2,803.1 L1032.8,804.6 L1033.5,806.0 L1034.1,807.4 L1034.8,808.8 L1035.4,810.0 L1036.1,811.2 L1036.7,812.4 L1037.4,813.6 L1038.1,814.7 L1038.8,815.8 L1039.6,816.8 L1040.3,817.9 L1041.2,818.9 L1042.0,819.8 L1042.8,820.8 L1043.7,821.7 L1044.5,822.5 L1045.3,823.3 L1046.1,824.1 L1046.9,824.9 L1047.8,825.6 L1048.7,826.3 L1049.8,827.0 L1050.9,827.7 L1052.1,828.3 L1053.3,828.9 L1054.5,829.5 L1055.6,830.0 L1056.6,830.4 L1057.6,830.8 L1058.6,831.2 L1059.5,831.5 L1060.5,831.9 L1061.5,832.2 L1062.5,832.5 L1063.5,832.9 L1064.5,833.2 L1065.5,833.5 L1066.5,833.9 L1067.5,834.2" fill="none" stroke="#000" stroke-width="2" stroke-linejoin="round" stroke-linecap="butt" shape-rendering="crispEdges"/>
<path d="M1104.9,462.7 L1104.9,460.3 L1105.0,458.1 L1105.0,455.8 L1105.0,453.4 L1105.0,450.9 L1105.1,448.0 L1105.2,442.5 L1105.4,436.2 L1105.5,429.4 L1105.7,422.3 L1105.9,415.2 L1106.1,408.4 L1106.3,401.7 L1106.4,395.0 L1106.6,388.2 L1106.8,381.6 L1106.9,375.1 L1107.1,368.8 L1107.3,363.7 L1107.4,358.8 L1107.6,354.0 L1107.8,349.2 L1107.9,344.3 L1108.1,339.2 L1108.3,332.9 L1108.5,326.3 L1108.7,319.6 L1108.9,312.8 L1109.1,306.1 L1109.3,299.6 L1109.4,293.5 L1109.6,287.2 L1109.7,281.0 L1109.8,275.1 L1109.9,269.7 L1110.0,265.0 L1110.1,262.7 L1110.1,260.8 L1110.1,259.0 L1110.2,257.3 L1110.2,255.4 L1110.3,253.2 L1110.4,249.0 L1110.6,244.3 L1110.7,239.2 L1110.9,233.9 L1111.0,228.6 L1111.2,223.5 L1111.3,218.5 L1111.5,213.5 L1111.6,208.4 L1111.7,203.5 L1111.8,198.6 L1112.0,193.8 L1112.2,189.7 L1112.3,185.6 L1112.5,181.6 L1112.7,177.7 L1112.8,173.9 L1113.0,170.1 L1113.1,166.7 L1113.3,163.3 L1113.4,160.0 L1113.5,156.8 L1113.6,153.5 L1113.8,150.3 L1114.0,147.3 L1114.2,144.2 L1114.4,141.2 L1114.6,138.2 L1114.8,135.3 L1115.0,132.5 L1115.2,130.1 L1115.4,127.7 L1115.6,125.4 L1115.8,123.1 L1116.0,120.9 L1116.2,118.6 L1116.4,116.4 L1116.5,114.2 L1116.7,111.9 L1116.8,109.8 L1117.0,107.8 L1117.2,106.0 L1117.4,104.9 L1117.5,103.8 L1117.7,102.8 L1117.9,101.9 L1118.1,101.1 L1118.3,100.3 L1118.5,99.8 L1118.6,99.4 L1118.8,98.9 L1119.0,98.5 L1119.2,98.3 L1119.4,98.2 L1119.6,98.3 L1119.8,98.5 L1120.0,98.9 L1120.2,99.4 L1120.3,99.8 L1120.5,100.3 L1120.7,101.1 L1120.9,101.9 L1121.1,102.8 L1121.3,103.8 L1121.4,104.9 L1121.6,106.0 L1121.8,107.8 L1122.0,109.8 L1122.2,111.9 L1122.3,114.1 L1122.5,116.4 L1122.7,118.6 L1122.9,121.1 L1123.1,123.7 L1123.4,126.4 L1123.6,129.1 L1123.9,131.8 L1124.1,134.5 L1124.4,137.4 L1124.6,140.4 L1124.9,143.3 L1125.2,146.3 L1125.5,149.3 L1125.7,152.3 L1125.9,155.3 L1126.1,158.2 L1126.3,161.1 L1126.5,164.1 L1126.7,167.1 L1126.9,170.1 L1127.1,173.3 L1127.4,176.6 L1127.6,179.9 L1127.8,183.2 L1128.1,186.5 L1128.3,189.9 L1128.5,193.5 L1128.7,197.1 L1128.9,200.7 L1129.1,204.3 L1129.3,208.0 L1129.5,211.7 L1129.7,215.6 L1129.8,219.6 L1130.0,223.5 L1130.1,227.5 L1130.2,231.5 L1130.4,235.4 L1130.6,239.2 L1130.7,242.9 L1130.9,246.7 L1131.1,250.4 L1131.2,253.9 L1131.4,257.2 L1131.5,259.5 L1131.6,261.6 L1131.7,263.6 L1131.8,265.7 L1131.9,267.7 L1132.0,270.0 L1132.2,273.0 L1132.4,276.0 L1132.6,279.2 L1132.8,282.5 L1133.0,286.0 L1133.2,289.7 L1133.5,295.1 L1133.7,301.1 L1134.0,307.3 L1134.3,313.6 L1134.5,319.7 L1134.8,325.3 L1135.0,329.6 L1135.3,333.6 L1135.5,337.6 L1135.7,341.4 L1136.0,345.3 L1136.2,349.1 L1136.4,352.8 L1136.6,356.4 L1136.8,359.9 L1137.0,363.5 L1137.2,367.1 L1137.4,370.8 L1137.6,374.7 L1137.8,378.7 L1138.0,382.6 L1138.2,386.6 L1138.4,390.6 L1138.6,394.6 L1138.8,398.6 L1139.0,402.6 L1139.2,406.7 L1139.4,410.7 L1139.7,414.6 L1139.9,418.3 L1140.1,421.4 L1140.3,424.4 L1140.6,427.3 L1140.8,430.1 L1141.0,433.0 L1141.2,436.0 L1141.4,439.2 L1141.6,442.4 L1141.7,445.6 L1141.9,448.9 L1142.1,452.3 L1142.3,455.7 L1142.6,459.8 L1142.9,464.0 L1143.3,468.4 L1143.6,472.8 L1144.0,477.2 L1144.3,481.5 L1144.6,485.8 L1145.0,490.1 L1145.3,494.4 L1145.6,498.7 L1146.0,503.0 L1146.3,507.2 L1146.6,511.2 L1147.0,515.2 L1147.3,519.2 L1147.6,523.1 L1148.0,527.0 L1148.3,530.9 L1148.6,534.6 L1148.9,538.2 L1149.2,541.8 L1149.5,545.4 L1149.8,549.0 L1150.2,552.7 L1150.6,556.6 L1151.0,560.5 L1151.5,564.5 L1151.9,568.4 L1152.4,572.2 L1152.8,576.0 L1153.2,579.3 L1153.6,582.6 L1154.0,585.8 L1154.4,588.9 L1154.8,592.0 L1155.2,595.0 L1155.6,597.6 L1156.0,600.1 L1156.3,602.5 L1156.7,604.9 L1157.2,607.2 L1157.6,609.4 L1158.0,611.2 L1158.4,613.0 L1158.8,614.7 L1159.2,616.3 L1159.6,617.8 L1160.1,619.3 L1160.5,620.4 L1160.9,621.6 L1161.3,622.6 L1161.8,623.6 L1162.2,624.5 L1162.7,625.1 L1163.0,625.4 L1163.3,625.6 L1163.6,625.9 L1163.9,626.0 L1164.2,626.1 L1164.5,626.1 L1164.9,626.0 L1165.3,625.7 L1165.6,625.3 L1166.0,624.9 L1166.4,624.4 L1166.7,623.9 L1167.2,623.1 L1167.6,622.1 L1167.9,621.1 L1168.3,620.0 L1168.6,618.8 L1169.0,617.6 L1169.4,616.1 L1169.8,614.4 L1170.2,612.7 L1170.6,611.0 L1171.0,609.3 L1171.4,607.7 L1171.8,606.3 L1172.2,604.9 L1172.6,603.5 L1173.1,602.2 L1173.5,600.9 L1174.0,599.8 L1174.4,599.0 L1174.8,598.3 L1175.2,597.6 L1175.6,596.9 L1176.0,596.3 L1176.4,595.8 L1176.7,595.5 L1177.0,595.1 L1177.2,594.8 L1177.5,594.6 L1177.8,594.4 L1178.1,594.4 L1178.5,594.5 L1178.9,594.8 L1179.3,595.2 L1179.7,595.7 L1180.1,596.3 L1180.5,596.8 L1181.0,597.6 L1181.4,598.5 L1181.8,599.5 L1182.2,600.5 L1182.5,601.7 L1182.9,602.8 L1183.4,604.4 L1183.8,606.1 L1184.2,607.9 L1184.6,609.7 L1184.9,611.6 L1185.3,613.6 L1185.7,616.1 L1186.2,618.6 L1186.6,621.3 L1187.0,624.0 L1187.4,626.8 L1187.8,629.5 L1188.2,632.4 L1188.7,635.4 L1189.1,638.3 L1189.5,641.3 L1190.0,644.3 L1190.4,647.3 L1190.8,650.3 L1191.2,653.2 L1191.6,656.2 L1192.0,659.2 L1192.4,662.1 L1192.8,665.1 L1193.2,668.1 L1193.6,671.1 L1194.0,674.1 L1194.4,677.0 L1194.8,680.0 L1195.2,682.9 L1195.5,685.6 L1195.8,688.3 L1196.2,691.0 L1196.5,693.7 L1196.8,696.3 L1197.1,698.9 L1197.4,701.3 L1197.8,703.7 L1198.1,706.1 L1198.4,708.4 L1198.8,710.7 L1199.2,713.0 L1199.6,715.1 L1200.0,717.2 L1200.4,719.2 L1200.8,721.3 L1201.2,723.2 L1201.7,725.0 L1202.1,726.4 L1202.5,727.8 L1203.0,729.2 L1203.4,730.5 L1203.9,731.6 L1204.5,732.6 L1204.9,733.2 L1205.4,733.7 L1205.8,734.2 L1206.3,734.6 L1206.8,734.9 L1207.3,735.1 L1207.8,735.1 L1208.3,735.1 L1208.9,735.0 L1209.4,734.7 L1209.9,734.5 L1210.4,734.2 L1210.9,733.8 L1211.4,733.2 L1211.9,732.6 L1212.4,732.0 L1212.9,731.5 L1213.4,731.0 L1213.8,730.7 L1214.2,730.4 L1214.6,730.1 L1215.1,729.9 L1215.5,729.7 L1215.9,729.7 L1216.4,729.8 L1216.9,730.1 L1217.4,730.6 L1217.9,731.1 L1218.4,731.6 L1218.9,732.2 L1219.5,733.0 L1220.0,733.8 L1220.5,734.8 L1221.0,735.8 L1221.5,736.9 L1221.9,738.0 L1222.4,739.5 L1222.8,741.2 L1223.2,742.9 L1223.6,744.7 L1224.0,746.5 L1224.4,748.3 L1224.9,750.3 L1225.3,752.4 L1225.7,754.4 L1226.2,756.6 L1226.6,758.8 L1227.1,761.0 L1227.6,763.7 L1228.2,766.6 L1228.7,769.6 L1229.3,772.6 L1229.8,775.5 L1230.4,778.2 L1230.9,780.5 L1231.4,782.6 L1231.9,784.8 L1232.4,786.8 L1232.9,788.9 L1233.4,791.0 L1233.9,793.0 L1234.3,795.1 L1234.8,797.1 L1235.2,799.1 L1235.7,801.0 L1236.3,802.9 L1236.8,804.5 L1237.4,806.1 L1238.0,807.6 L1238.6,809.1 L1239.3,810.5 L1239.9,811.8 L1240.4,812.9 L1240.9,813.9 L1241.5,814.9 L1242.0,815.8 L1242.6,816.6 L1243.2,817.2 L1243.7,817.5 L1244.1,817.7 L1244.6,817.9 L1245.1,818.0 L1245.7,818.0 L1246.2,818.1 L1246.8,818.1 L1247.5,818.2 L1248.2,818.1 L1248.9,818.1 L1249.5,818.0 L1250.2,817.8 L1250.9,817.6 L1251.5,817.2 L1252.2,816.9 L1252.8,816.5 L1253.5,816.1 L1254.1,815.8 L1254.6,815.6 L1255.1,815.3 L1255.6,815.1 L1256.0,814.9 L1256.6,814.7 L1257.1,814.6 L1257.8,814.5 L1258.7,814.4 L1259.5,814.3 L1260.4,814.3 L1261.2,814.4 L1262.0,814.6 L1262.7,814.9 L1263.4,815.2 L1264.0,815.7 L1264.7,816.2 L1265.3,816.7 L1266.0,817.2 L1266.8,817.8 L1267.6,818.5 L1268.5,819.1 L1269.3,819.8 L1270.2,820.5 L1271.0,821.1 L1271.8,821.6 L1272.6,822.2 L1273.4,822.7 L1274.2,823.1 L1275.1,823.5 L1275.9,823.9 L1276.7,824.2 L1277.4,824.4 L1278.2,824.5 L1279.0,824.7 L1279.9,824.8 L1280.8,824.9 L1282.5,825.0 L1284.6,824.9 L1286.8,824.8 L1288.9,824.7 L1291.0,824.7 L1292.7,824.9 L1293.7,825.1 L1294.5,825.4 L1295.3,825.7 L1296.1,826.0 L1296.9,826.3 L1297.7,826.7 L1298.7,827.1 L1299.6,827.6 L1300.6,828.1 L1301.6,828.6 L1302.6,829.1 L1303.6,829.6 L1304.6,830.1 L1305.6,830.5 L1306.6,830.9 L1307.6,831.4 L1308.5,831.8 L1309.5,832.2 L1310.4,832.6 L1311.2,833.0 L1312.1,833.4 L1312.9,833.8 L1313.7,834.1 L1314.5,834.4 L1315.0,834.6 L1315.5,834.7 L1316.0,834.8 L1316.5,834.8 L1317.0,834.9 L1317.5,835.0" fill="none" stroke="#000" stroke-width="2" stroke-linejoin="round" stroke-linecap="butt" shape-rendering="crispEdges"/>
</svg>
</body></html>
